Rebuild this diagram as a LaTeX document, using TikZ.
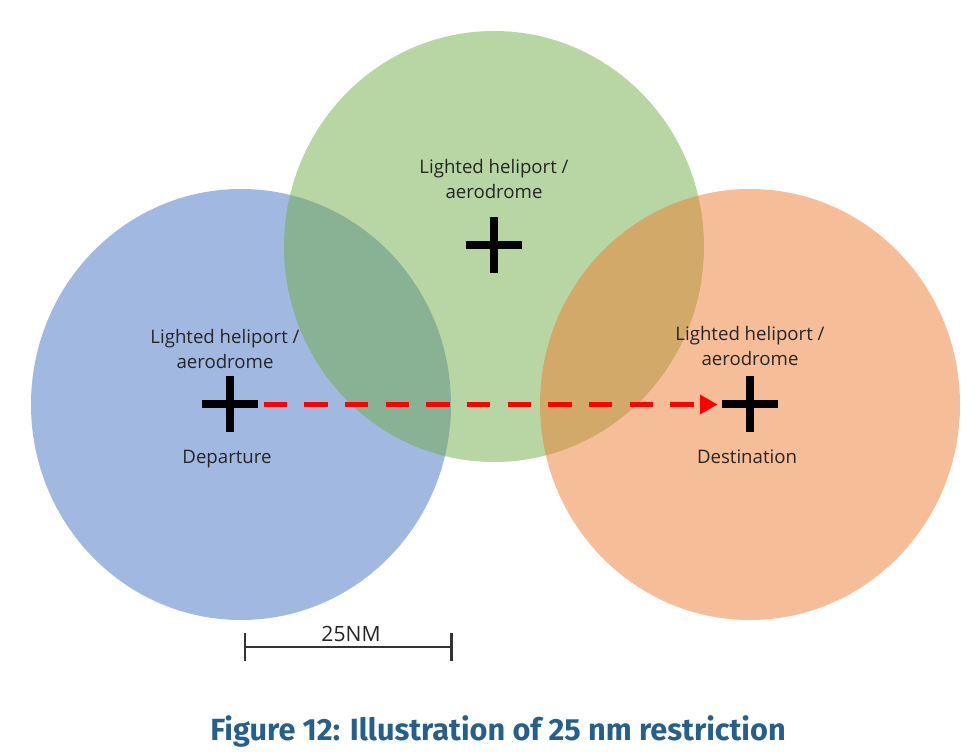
\documentclass[tikz,border=0pt]{standalone}
\usepackage{fontspec}
\setmainfont{Open Sans}
\newfontfamily\capfont{Fira Sans}
\usetikzlibrary{arrows.meta, shapes.geometric}
\definecolor{zoneblue}{HTML}{4472C4}
\definecolor{zonegreen}{HTML}{70AD47}
\definecolor{zoneorange}{HTML}{ED7D31}
\definecolor{captionblue}{HTML}{265F8A}
\tikzset{
  zone/.style={ellipse, minimum width=420*0.02cm, minimum height=431*0.02cm, inner sep=0, fill opacity=0.5},
  lbl/.style={align=center, font=\fontsize{10.6}{14.7}\selectfont, text=black!85},
  crossmark/.style={minimum size=56*0.02cm, inner sep=0, outer sep=0, path picture={
    \fill[black] ([xshift=-4*0.02cm]path picture bounding box.south) rectangle ([xshift=4*0.02cm]path picture bounding box.north);
    \fill[black] ([yshift=-4*0.02cm]path picture bounding box.west) rectangle ([yshift=4*0.02cm]path picture bounding box.east);
  }},
}
\begin{document}
\begin{tikzpicture}[x=0.02cm, y=-0.02cm]
  \useasboundingbox (0, 0) rectangle (980, 756);
  \node[zone, fill=zoneblue]   (zoneDep)  at (241, 404.5) {};
  \node[zone, fill=zonegreen]  (zoneMid)  at (494, 246.5) {};
  \node[zone, fill=zoneorange] (zoneDest) at (750, 404.5) {};

  \node[crossmark] (crossDep)  at (230, 404.5) {};
  \node[crossmark] (crossMid)  at (494, 245) {};
  \node[crossmark] (crossDest) at (750, 404.5) {};

  \node[lbl] (lblMid)  at (494, 179) {Lighted heliport /\\aerodrome};
  \node[lbl] (lblDep)  at (225, 349) {Lighted heliport /\\aerodrome};
  \node[lbl] (lblDest) at (750, 346) {Lighted heliport /\\aerodrome};
  \node[lbl, anchor=base] (lblStart) at (227, 463) {Departure};
  \node[lbl, anchor=base] (lblEnd)   at (747, 463) {Destination};

  \draw[-{Triangle[length=10pt, width=10.5pt]}, red, line width=2.9pt, dash pattern=on 13.3pt off 9.85pt,
        shorten <=3.2pt, shorten >=2.5pt] (crossDep.east) -- (crossDest.west);

  % scale bar
  \coordinate (barLeft)  at (243.5, 647);
  \coordinate (barRight) at (452.5, 647);
  \draw[{Bar[width=16pt]}-{Bar[width=16pt]}, line width=1.5pt, black!80] (barLeft) -- (barRight);
  \node[lbl, font=\fontsize{12}{14}\selectfont] (lblBar) at (351, 634) {25NM};

  \node[font=\capfont\bfseries\fontsize{17.45}{20}\selectfont, text=captionblue] (caption) at (498, 731) {Figure 12: Illustration of 25 nm restriction};
\end{tikzpicture}
\end{document}
